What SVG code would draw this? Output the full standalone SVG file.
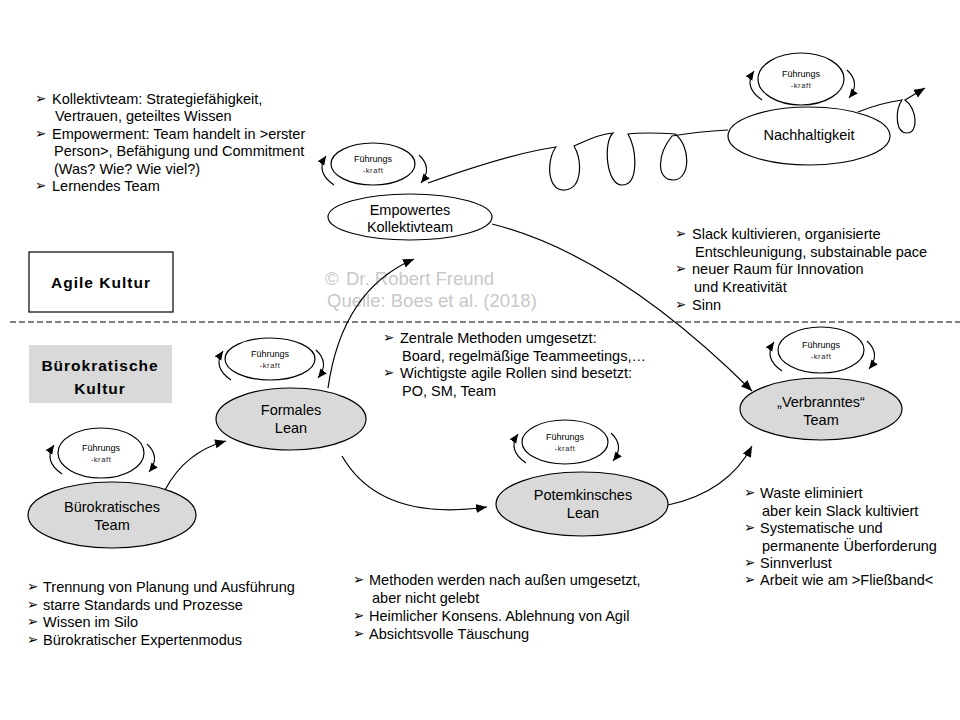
<svg xmlns="http://www.w3.org/2000/svg" width="960" height="720" viewBox="0 0 960 720">
<style>
.t{font-family:"Liberation Sans",Arial,sans-serif;font-size:14.5px;fill:#000}
.c{text-anchor:middle}
.b{font-family:"DejaVu Sans",sans-serif;font-size:13.5px;fill:#000}
.fk1{font-family:"Liberation Sans",Arial,sans-serif;font-size:9px;text-anchor:middle;fill:#000}
.fk2{font-family:"Liberation Sans",Arial,sans-serif;font-size:7.5px;letter-spacing:0.6px;text-anchor:middle;fill:#222}
.el{stroke:#000;stroke-width:1.2}
.g{fill:#d9d9d9}
.w{fill:#fff}
.conn{fill:none;stroke:#000;stroke-width:1.2}
.arc{fill:none;stroke:#000;stroke-width:1.1;marker-end:url(#ahs)}
.wm{font-family:"Liberation Sans",Arial,sans-serif;font-size:18.5px;fill:#c8c8c8}
.bold{font-family:"Liberation Sans",Arial,sans-serif;font-size:15.5px;font-weight:bold;letter-spacing:1px;text-anchor:middle;fill:#000}
</style>
<defs>
<marker id="ah" markerUnits="userSpaceOnUse" markerWidth="12" markerHeight="10" refX="11" refY="4.5" orient="auto"><path d="M0,0 L11,4.5 L0,9 z" fill="#000"/></marker>
<marker id="ahs" markerUnits="userSpaceOnUse" markerWidth="10" markerHeight="9" refX="9" refY="4" orient="auto"><path d="M0,0 L9,4 L0,8 z" fill="#000"/></marker>
<g id="fkarcs">
<path class="arc" d="M-39,21 Q-58,8 -47,-8"/>
<path class="arc" d="M46,-9 Q60,4 48,19"/>
</g>
</defs>
<rect width="960" height="720" fill="#fff"/>

<!-- watermark -->
<text class="wm" x="325" y="285">©</text>
<text class="wm" x="346" y="285">Dr. Robert Freund</text>
<text class="wm" x="327" y="307">Quelle: Boes et al. (2018)</text>

<!-- dashed separator -->
<line x1="10" y1="322" x2="960" y2="322" stroke="#000" stroke-width="1" stroke-dasharray="6,3"/>

<!-- culture labels -->
<g id="agile-kultur">
<rect x="29" y="252" width="144" height="60" fill="#fff" stroke="#000" stroke-width="1.2"/>
<text class="bold" x="101" y="288">Agile Kultur</text>
</g>
<g id="buerokratische-kultur">
<rect x="29" y="345" width="143" height="58" fill="#d9d9d9"/>
<text class="bold" x="100" y="371">Bürokratische</text>
<text class="bold" x="100" y="394">Kultur</text>
</g>

<!-- connectors -->
<g id="connectors">
<path class="conn" marker-end="url(#ah)" d="M165,490 Q185,452 226,441"/>
<path class="conn" marker-end="url(#ah)" d="M328,388 Q342,290 414,259"/>
<path class="conn" marker-end="url(#ah)" d="M342,456 Q380,522 487,507"/>
<path class="conn" marker-end="url(#ah)" d="M668,505 Q728,492 752,446"/>
<path class="conn" marker-end="url(#ah)" d="M492,224 Q615,255 752,391"/>
<path class="conn" d="M428,183 C470,168 520,152 556,147 C546,160 547,192 565,190 C583,188 582,160 574,146 C590,139 600,134 613,133 C603,142 606,185 622,185 C639,185 637,150 628,134 C645,132 660,133 675,134 C691,146 691,180 673,180 C657,180 656,156 672,136 C690,133 710,131 728,130"/>
<path class="conn" marker-end="url(#ah)" d="M858,112 C875,105 888,102 902,100 C895,110 895,133 907,133 C919,133 917,108 905,100 L925,88"/>
</g>

<!-- nodes -->
<g id="buerokratisches-team">
<ellipse class="el g" cx="112" cy="515" rx="84" ry="33"/>
<text class="t c" x="112" y="512">Bürokratisches</text>
<text class="t c" x="112" y="530">Team</text>
</g>
<g id="fk-buerokratisch" transform="translate(101,453)">
<ellipse class="el w" rx="43" ry="25"/>
<text class="fk1" y="-2">Führungs</text>
<text class="fk2" y="9">-kraft</text>
<use href="#fkarcs"/>
</g>

<g id="formales-lean">
<ellipse class="el g" cx="291" cy="419" rx="75" ry="31"/>
<text class="t c" x="291" y="415">Formales</text>
<text class="t c" x="291" y="433">Lean</text>
</g>
<g id="fk-formales" transform="translate(270,359)">
<ellipse class="el w" rx="45" ry="21"/>
<text class="fk1" y="-2">Führungs</text>
<text class="fk2" y="9">-kraft</text>
<use href="#fkarcs"/>
</g>

<g id="potemkinsches-lean">
<ellipse class="el g" cx="582" cy="504" rx="86" ry="32"/>
<text class="t c" x="583" y="500">Potemkinsches</text>
<text class="t c" x="583" y="518">Lean</text>
</g>
<g id="fk-potemkinsches" transform="translate(565,442)">
<ellipse class="el w" rx="43" ry="22"/>
<text class="fk1" y="-2">Führungs</text>
<text class="fk2" y="9">-kraft</text>
<use href="#fkarcs"/>
</g>

<g id="verbranntes-team">
<ellipse class="el g" cx="821" cy="409" rx="81" ry="31"/>
<text class="t c" x="821" y="407">„Verbranntes“</text>
<text class="t c" x="821" y="425">Team</text>
</g>
<g id="fk-verbranntes" transform="translate(821,350)">
<ellipse class="el w" rx="43" ry="23"/>
<text class="fk1" y="-2">Führungs</text>
<text class="fk2" y="9">-kraft</text>
<use href="#fkarcs"/>
</g>

<g id="empowertes-kollektivteam">
<ellipse class="el w" cx="410" cy="217" rx="82" ry="23"/>
<text class="t c" x="410" y="215">Empowertes</text>
<text class="t c" x="410" y="232">Kollektivteam</text>
</g>
<g id="fk-empowertes" transform="translate(373,164)">
<ellipse class="el w" rx="42" ry="21"/>
<text class="fk1" y="-2">Führungs</text>
<text class="fk2" y="9">-kraft</text>
<use href="#fkarcs"/>
</g>

<g id="nachhaltigkeit">
<ellipse class="el w" cx="809" cy="136" rx="81" ry="29"/>
<text class="t c" x="809" y="140">Nachhaltigkeit</text>
</g>
<g id="fk-nachhaltigkeit" transform="translate(801,79)">
<ellipse class="el w" rx="43" ry="26"/>
<text class="fk1" y="-2">Führungs</text>
<text class="fk2" y="9">-kraft</text>
<use href="#fkarcs"/>
</g>

<!-- text blocks -->
<g id="text-empowertes">
<text class="b" x="35" y="103">➢</text>
<text class="t" x="52" y="104">Kollektivteam: Strategiefähigkeit,</text>
<text class="t" x="55" y="121">Vertrauen, geteiltes Wissen</text>
<text class="b" x="35" y="138">➢</text>
<text class="t" x="52" y="139">Empowerment: Team handelt in &gt;erster</text>
<text class="t" x="54" y="156">Person&gt;, Befähigung und Commitment</text>
<text class="t" x="54" y="174">(Was? Wie? Wie viel?)</text>
<text class="b" x="35" y="190">➢</text>
<text class="t" x="52" y="191">Lernendes Team</text>
</g>

<g id="text-nachhaltigkeit">
<text class="b" x="675" y="238">➢</text>
<text class="t" x="692" y="239">Slack kultivieren, organisierte</text>
<text class="t" x="695" y="257">Entschleunigung, substainable pace</text>
<text class="b" x="675" y="273">➢</text>
<text class="t" x="692" y="274">neuer Raum für Innovation</text>
<text class="t" x="694" y="292">und Kreativität</text>
<text class="b" x="675" y="309">➢</text>
<text class="t" x="692" y="310">Sinn</text>
</g>

<g id="text-formales">
<text class="b" x="383" y="342">➢</text>
<text class="t" x="400" y="343">Zentrale Methoden umgesetzt:</text>
<text class="t" x="402" y="361">Board, regelmäßige Teammeetings,…</text>
<text class="b" x="383" y="377">➢</text>
<text class="t" x="400" y="378">Wichtigste agile Rollen sind besetzt:</text>
<text class="t" x="402" y="396">PO, SM, Team</text>
</g>

<g id="text-buerokratisch">
<text class="b" x="27" y="591">➢</text>
<text class="t" x="43" y="592">Trennung von Planung und Ausführung</text>
<text class="b" x="27" y="609">➢</text>
<text class="t" x="43" y="610">starre Standards und Prozesse</text>
<text class="b" x="27" y="626">➢</text>
<text class="t" x="43" y="627">Wissen im Silo</text>
<text class="b" x="27" y="644">➢</text>
<text class="t" x="43" y="645">Bürokratischer Expertenmodus</text>
</g>

<g id="text-potemkinsches">
<text class="b" x="353" y="584">➢</text>
<text class="t" x="369" y="585">Methoden werden nach außen umgesetzt,</text>
<text class="t" x="372" y="603">aber nicht gelebt</text>
<text class="b" x="353" y="620">➢</text>
<text class="t" x="369" y="621">Heimlicher Konsens. Ablehnung von Agil</text>
<text class="b" x="353" y="638">➢</text>
<text class="t" x="369" y="639">Absichtsvolle Täuschung</text>
</g>

<g id="text-verbranntes">
<text class="b" x="744" y="497">➢</text>
<text class="t" x="760" y="498">Waste eliminiert</text>
<text class="t" x="762" y="516">aber kein Slack kultiviert</text>
<text class="b" x="744" y="532">➢</text>
<text class="t" x="760" y="533">Systematische und</text>
<text class="t" x="762" y="551">permanente Überforderung</text>
<text class="b" x="744" y="567">➢</text>
<text class="t" x="760" y="568">Sinnverlust</text>
<text class="b" x="744" y="584">➢</text>
<text class="t" x="760" y="585">Arbeit wie am &gt;Fließband&lt;</text>
</g>
</svg>
